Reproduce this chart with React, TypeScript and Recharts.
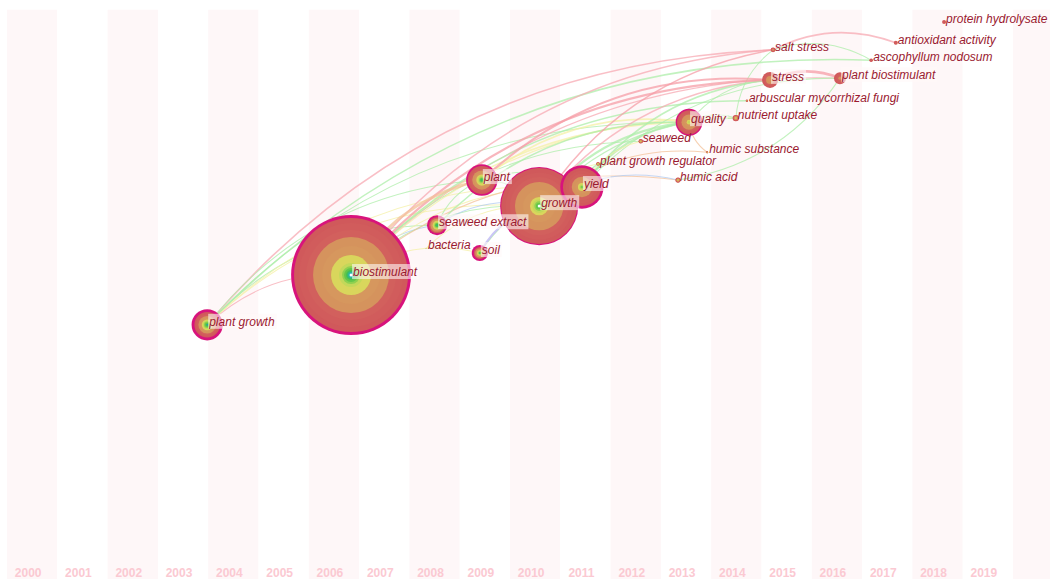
import React from 'react';
import { ComposedChart, XAxis, YAxis, Line, Scatter, ReferenceArea } from 'recharts';

// timezone columns
const YEARS = [2000, 2001, 2002, 2003, 2004, 2005, 2006, 2007, 2008, 2009, 2010, 2011, 2012, 2013, 2014, 2015, 2016, 2017, 2018, 2019, 2020];
const YEAR_LABELS = ['2000', '2001', '2002', '2003', '2004', '2005', '2006', '2007', '2008', '2009', '2010', '2011', '2012', '2013', '2014', '2015', '2016', '2017', '2018', '2019', ''];

// ring colour for each year slice (2000 -> 2019)
const YEAR_COLORS = [
  '#6a3d9a', '#5b45a8', '#4c4fb5', '#3d5fc0', '#3472c6', '#2e86c8', '#2f8fd0', '#2bb0c0', '#2cb89a', '#34bc6e',
  '#45c050', '#62c64a', '#8ed050', '#c3d85a', '#d9d65c', '#d6975e', '#d5935d', '#d2605d', '#d15c5c', '#d0595b',
];

// keyword nodes
const keywords = [
  'biostimulant', 'growth', 'yield', 'plant', 'plant growth', 'seaweed extract', 'soil', 'bacteria',
  'quality', 'seaweed', 'stress', 'plant biostimulant', 'salt stress', 'antioxidant activity',
  'ascophyllum nodosum', 'protein hydrolysate', 'nutrient uptake', 'humic acid', 'humic substance',
  'plant growth regulator', 'arbuscular mycorrhizal fungi',
];
const firstYear = [2006, 2010, 2011, 2009, 2003, 2008, 2009, 2008, 2013, 2012, 2015, 2016, 2015, 2017, 2017, 2018, 2014, 2013, 2013, 2011, 2014];
const timePos = [2006.34, 2010.08, 2010.93, 2008.94, 2003.48, 2008.05, 2008.9, 2007.83, 2013.06, 2012.1, 2014.67, 2016.06, 2014.73, 2017.17, 2016.68, 2018.13, 2013.99, 2012.84, 2013.42, 2011.25, 2014.21];
const layoutPos = [52.5, 64.4, 67.7, 68.9, 43.9, 61.1, 56.3, 57.1, 78.9, 75.6, 86.2, 86.5, 91.4, 92.6, 89.6, 96.2, 79.6, 68.9, 73.7, 71.7, 82.6];
const yearlyCounts = [
  [5, 5, 5, 5, 5, 10, 10, 15, 40, 45, 45, 35, 35, 25],
  [8, 8, 8, 10, 12, 35, 40, 25, 22, 22],
  [4, 4, 5, 7, 13, 18, 15, 15, 14],
  [3, 3, 4, 4, 6, 8, 10, 10, 8, 7, 7],
  [1, 0, 1, 0, 0, 1, 0, 3, 6, 4, 5, 6, 8, 9, 7, 6, 7],
  [2, 2, 3, 3, 3, 4, 5, 6, 5, 3, 2, 2],
  [1, 2, 2, 2, 3, 4, 5, 4, 3, 2, 2],
  [1, 0, 0, 0, 0, 0, 0, 0, 0, 0, 0, 0],
  [6, 6, 12, 14, 8, 8, 6],
  [1, 1, 1, 2, 2, 2, 1, 1],
  [10, 10, 8, 6, 6],
  [8, 8, 7, 7],
  [2, 3, 3, 2, 2],
  [4, 3, 3],
  [3, 3, 3],
  [5, 5],
  [4, 3, 3, 2, 2, 2],
  [2, 2, 2, 2, 2, 2, 1],
  [1, 1, 1, 1, 1, 0, 0],
  [1, 1, 1, 1, 1, 1, 1, 1, 1],
  [1, 1, 1, 1, 1, 1],
];
const centrality = [0.42, 0.15, 0.38, 0.25, 0.4, 0.3, 0.3, 0, 0.2, 0, 0.05, 0, 0, 0, 0, 0, 0, 0, 0, 0, 0];

// co-occurrence links: from, to, colour, strength
const links: [string, string, string, number][] = [
  ['plant growth', 'salt stress', 'pink', 2],
  ['plant growth', 'ascophyllum nodosum', 'green', 2],
  ['plant growth', 'biostimulant', 'pink', 1],
  ['plant growth', 'growth', 'yellow', 1],
  ['plant growth', 'plant', 'green', 1],
  ['plant growth', 'seaweed extract', 'green', 1],
  ['plant growth', 'yield', 'yellow', 1],
  ['plant growth', 'quality', 'green', 1],
  ['biostimulant', 'seaweed extract', 'blue', 1],
  ['biostimulant', 'growth', 'green', 1],
  ['biostimulant', 'yield', 'yellow', 1],
  ['biostimulant', 'quality', 'yellow', 2],
  ['biostimulant', 'salt stress', 'pink', 2],
  ['biostimulant', 'soil', 'yellow', 1],
  ['biostimulant', 'plant biostimulant', 'pink', 1],
  ['biostimulant', 'humic acid', 'orange', 1],
  ['biostimulant', 'seaweed', 'green', 1],
  ['biostimulant', 'arbuscular mycorrhizal fungi', 'green', 2],
  ['biostimulant', 'nutrient uptake', 'yellow', 1],
  ['seaweed extract', 'growth', 'blue', 1],
  ['seaweed extract', 'quality', 'green', 2],
  ['seaweed extract', 'plant', 'green', 1],
  ['soil', 'yield', 'green', 1],
  ['bacteria', 'growth', 'yellow', 1],
  ['plant', 'quality', 'yellow', 2],
  ['plant', 'yield', 'green', 1],
  ['plant', 'growth', 'green', 1],
  ['growth', 'yield', 'green', 2],
  ['growth', 'quality', 'green', 3],
  ['growth', 'stress', 'pink', 2],
  ['growth', 'salt stress', 'red', 2],
  ['growth', 'plant growth regulator', 'yellow', 1],
  ['growth', 'humic acid', 'blue', 1],
  ['growth', 'nutrient uptake', 'green', 1],
  ['growth', 'humic substance', 'orange', 1],
  ['yield', 'quality', 'green', 3],
  ['yield', 'stress', 'green', 2],
  ['yield', 'plant biostimulant', 'green', 1],
  ['yield', 'seaweed', 'yellow', 1],
  ['yield', 'plant growth regulator', 'green', 2],
  ['quality', 'stress', 'green', 1],
  ['quality', 'nutrient uptake', 'green', 1],
  ['humic substance', 'quality', 'orange', 1],
  ['nutrient uptake', 'salt stress', 'green', 1],
  ['plant biostimulant', 'humic acid', 'green', 1],
  ['salt stress', 'ascophyllum nodosum', 'green', 1],
  ['salt stress', 'antioxidant activity', 'pink', 2],
  ['soil', 'growth', 'violet', 3],
  ['biostimulant', 'stress', 'red', 3],
  ['plant', 'stress', 'red', 3],
  ['biostimulant', 'plant', 'orange', 4],
  ['stress', 'plant biostimulant', 'red', 4],
];

const LINK_COLORS: Record<string, string> = {
  pink: '#f7aab3',
  red: '#f59ea7',
  green: '#aeeda9',
  yellow: '#f4f0a6',
  blue: '#b0cbf2',
  orange: '#f3c29a',
  violet: '#b9b3f3',
};

const W = 1050;
const H = 579;
const PLOT_LEFT = 7;
const COL_PX = 50.3;
const X_MIN = 1999.5;
const X_MAX = X_MIN + (W - PLOT_LEFT) / COL_PX;
const RING_SCALE = 0.2;
const BEND = 0.22;
const LABEL_FONT = 'italic 12px "Liberation Sans"';

const nodes = keywords.map((name, i) => ({
  name,
  x: timePos[i],
  y: layoutPos[i],
  first: firstYear[i],
  counts: yearlyCounts[i],
  centrality: centrality[i],
}));
const nodeByName: Record<string, (typeof nodes)[number]> = {};
nodes.forEach((n) => (nodeByName[n.name] = n));

// quadratic arc between the two ends of a line
const arcCurve = (context: any) => {
  let pts: number[][] = [];
  return {
    areaStart() {},
    areaEnd() {},
    lineStart() {
      pts = [];
    },
    point(x: number, y: number) {
      pts.push([x, y]);
    },
    lineEnd() {
      if (pts.length < 2) return;
      const [x0, y0] = pts[0];
      const [x1, y1] = pts[pts.length - 1];
      const dx = x1 - x0;
      const dy = y1 - y0;
      context.moveTo(x0, y0);
      context.quadraticCurveTo((x0 + x1) / 2 + dy * BEND, (y0 + y1) / 2 - dx * BEND, x1, y1);
    },
  };
};

let measureCtx: CanvasRenderingContext2D | null = null;
function textWidth(s: string) {
  if (!measureCtx) measureCtx = document.createElement('canvas').getContext('2d');
  if (!measureCtx) return s.length * 6;
  measureCtx.font = LABEL_FONT;
  return measureCtx.measureText(s).width;
}

function ringRadius(counts: number[]) {
  return counts.reduce((a, b) => a + b, 0) * RING_SCALE;
}

function NodeShape(props: any) {
  const { cx, cy, payload } = props;
  if (cx == null || cy == null) return null;
  let cum = 0;
  const rings = payload.counts.map((c: number, i: number) => {
    cum += c;
    return { r: cum * RING_SCALE, color: YEAR_COLORS[payload.first - 2000 + i] };
  });
  const outer = cum * RING_SCALE;
  const bw = payload.centrality >= 0.1 ? payload.centrality * 7 : 0;
  return (
    <g>
      {bw > 0 && <circle cx={cx} cy={cy} r={outer + bw} fill="#d8137c" />}
      {rings
        .slice()
        .reverse()
        .filter((rg: any) => rg.r > 0)
        .map((rg: any, i: number) => (
          <circle key={i} cx={cx} cy={cy} r={rg.r} fill={rg.color} />
        ))}
      {outer > 20 && <circle cx={cx} cy={cy} r={1.5} fill="#ffffff" />}
    </g>
  );
}

function LabelShape(props: any) {
  const { cx, cy, payload } = props;
  if (cx == null || cy == null) return null;
  const boxed = ringRadius(payload.counts) > 5;
  const w = textWidth(payload.name);
  return (
    <g>
      {boxed && <rect x={cx + 1} y={cy - 11} width={w + 3} height={15} fill="#fff8f8" fillOpacity={0.6} />}
      <text
        x={cx + 2}
        y={cy + 1}
        fontSize={12}
        fontStyle="italic"
        fontFamily='"Liberation Sans", Arial, sans-serif'
        fill="#9a1a30"
      >
        {payload.name}
      </text>
    </g>
  );
}

export default function App() {
  return (
    <div style={{ position: 'absolute', left: 0, top: 0, width: W, height: H, background: '#ffffff' }}>
      <ComposedChart width={W} height={H} margin={{ top: 0, right: 0, bottom: 0, left: PLOT_LEFT }}>
        <XAxis type="number" dataKey="x" domain={[X_MIN, X_MAX]} allowDataOverflow hide />
        <YAxis type="number" dataKey="y" domain={[0, 100]} allowDataOverflow hide />
        {YEARS.map((yr, i) => (
          <ReferenceArea
            key={yr}
            x1={yr - 0.5}
            x2={Math.min(yr + 0.5, X_MAX)}
            y1={0}
            y2={98.3}
            fill={i % 2 === 0 ? '#fef7f8' : '#ffffff'}
            fillOpacity={1}
            stroke="none"
            label={{
              value: YEAR_LABELS[i],
              position: 'insideBottom',
              offset: 2,
              dx: -4,
              fill: '#fbc9d2',
              fontSize: 12,
              fontWeight: 'bold',
              fontFamily: '"Liberation Sans", Arial, sans-serif',
            }}
          />
        ))}
        {links.map(([from, to, color, strength], i) => (
          <Line
            key={`link-${i}`}
            data={[nodeByName[from], nodeByName[to]]}
            dataKey="y"
            type={arcCurve as any}
            stroke={LINK_COLORS[color]}
            strokeWidth={0.5 + strength * 0.55}
            strokeOpacity={0.75}
            dot={false}
            activeDot={false}
            isAnimationActive={false}
          />
        ))}
        <Scatter data={nodes} shape={(p: any) => <NodeShape {...p} />} isAnimationActive={false} />
        <Scatter data={nodes} shape={(p: any) => <LabelShape {...p} />} isAnimationActive={false} />
      </ComposedChart>
    </div>
  );
}
